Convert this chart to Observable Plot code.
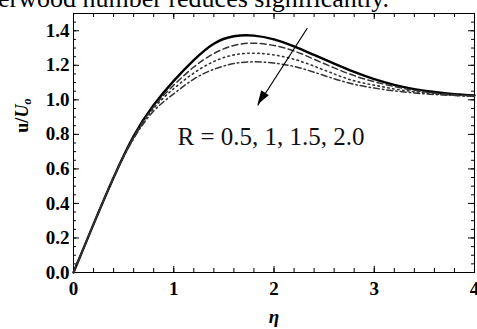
<!DOCTYPE html>
<html>
<head>
<meta charset="utf-8">
<script src="https://cdn.jsdelivr.net/npm/d3@7"></script>
<script src="https://cdn.jsdelivr.net/npm/@observablehq/plot@0.6"></script>
<style>
  body { margin: 0; background: #fff; }
  #wrap { position: relative; width: 477px; height: 329px; overflow: hidden; background: #fff; }
  #chart { position: absolute; left: 0; top: 0; }
  #note { position: absolute; left: -2px; top: -14px; font: 26px "Liberation Serif", "Times New Roman", serif; line-height: 26px; white-space: nowrap; color: #000; }
</style>
</head>
<body>
<div id="wrap">
  <div id="chart"></div>
  <div id="note">erwood number reduces significantly.</div>
</div>
<script>
// similarity variable
const eta = [0, 0.2, 0.4, 0.6, 0.8, 1.0, 1.2, 1.4, 1.6, 1.8, 2.0, 2.2, 2.4, 2.6, 2.8, 3.0, 3.2, 3.4, 3.6, 3.8, 4.0];

// velocity profiles u/Uo for each R
const uR05 = [0, 0.28, 0.55, 0.79, 0.97, 1.11, 1.23, 1.325, 1.368, 1.372, 1.35, 1.31, 1.26, 1.21, 1.162, 1.12, 1.087, 1.062, 1.045, 1.033, 1.025];
const uR10 = [0, 0.28, 0.55, 0.785, 0.96, 1.085, 1.19, 1.268, 1.315, 1.328, 1.315, 1.283, 1.235, 1.185, 1.14, 1.105, 1.077, 1.055, 1.04, 1.03, 1.022];
const uR15 = [0, 0.28, 0.55, 0.78, 0.95, 1.065, 1.155, 1.222, 1.26, 1.27, 1.26, 1.235, 1.195, 1.15, 1.11, 1.085, 1.063, 1.047, 1.035, 1.027, 1.02];
const uR20 = [0, 0.28, 0.55, 0.775, 0.935, 1.035, 1.12, 1.177, 1.21, 1.22, 1.213, 1.193, 1.16, 1.122, 1.09, 1.068, 1.052, 1.04, 1.031, 1.025, 1.02];

// axis ticks
const xTickLabels = [0, 1, 2, 3, 4];
const yTickLabels = [0.0, 0.2, 0.4, 0.6, 0.8, 1.0, 1.2, 1.4];

// annotation
const legendText = "R = 0.5, 1, 1.5, 2.0";
const legendPos = [{x: 1.97, y: 0.785}];
const arrowPos = [{x1: 2.33, y1: 1.413, x2: 1.84, y2: 0.97}];

const W = 477, H = 329;
const mL = 73, mR = 3, mT = 13, mB = 57;
const fw = W - mL - mR, fh = H - mT - mB;

const series = [
  {values: uR05, width: 2.4, dash: null, color: "#000"},
  {values: uR10, width: 1.5, dash: "6,3.5", color: "#333"},
  {values: uR15, width: 1.6, dash: "1.5,3.5", color: "#333"},
  {values: uR20, width: 1.5, dash: "6,3,1.5,3", color: "#333"}
];

const xMinor = d3.range(0, 4.0001, 0.2);
const yMinor = d3.range(0, 1.5001, 0.05);
const yMajor = d3.range(0, 1.5001, 0.2);

const lineMarks = series.map(s => Plot.line(eta.map((x, i) => ({x, y: s.values[i]})), {
  x: "x", y: "y", curve: "natural",
  stroke: s.color, strokeWidth: s.width, strokeDasharray: s.dash
}));

const serif = "Liberation Serif";

const plot = Plot.plot({
  width: W, height: H,
  marginLeft: mL, marginRight: mR, marginTop: mT, marginBottom: mB,
  style: {fontFamily: serif, fontSize: "19px", fontWeight: "bold", background: "transparent", overflow: "visible"},
  x: {domain: [0, 4]},
  y: {domain: [0, 1.5]},
  marks: [
    // inward ticks: bottom / top
    Plot.tickX(xMinor, {x: d => d, insetTop: fh - 4, stroke: "#000", strokeWidth: 1}),
    Plot.tickX(xMinor, {x: d => d, insetBottom: fh - 4, stroke: "#000", strokeWidth: 1}),
    Plot.tickX(xTickLabels, {x: d => d, insetTop: fh - 6, stroke: "#000", strokeWidth: 1}),
    Plot.tickX(xTickLabels, {x: d => d, insetBottom: fh - 6, stroke: "#000", strokeWidth: 1}),
    // inward ticks: left / right
    Plot.tickY(yMinor, {y: d => d, insetRight: fw - 3, stroke: "#000", strokeWidth: 1}),
    Plot.tickY(yMinor, {y: d => d, insetLeft: fw - 3, stroke: "#000", strokeWidth: 1}),
    Plot.tickY(yMajor, {y: d => d, insetRight: fw - 6, stroke: "#000", strokeWidth: 1}),
    Plot.tickY(yMajor, {y: d => d, insetLeft: fw - 6, stroke: "#000", strokeWidth: 1}),
    Plot.axisX({ticks: xTickLabels, tickSize: 0, tickPadding: 9, tickFormat: d => String(d), label: null,
      fontFamily: serif, fontSize: 19, fontWeight: "bold", fill: "#000"}),
    Plot.axisY({ticks: yTickLabels, tickSize: 0, tickPadding: 4, tickFormat: d3.format(".1f"), label: null,
      fontFamily: serif, fontSize: 19, fontWeight: "bold", fill: "#000"}),
    Plot.frame({stroke: "#000", strokeWidth: 1}),
    ...lineMarks,
    Plot.arrow(arrowPos, {x1: "x1", y1: "y1", x2: "x2", y2: "y2", stroke: "#000", strokeWidth: 1.2, headLength: 0}),
    Plot.text(legendPos, {x: "x", y: "y", text: () => legendText, fontFamily: serif, fontSize: 25, fontWeight: "normal", fill: "#111"}),
    Plot.text([{y: 0.81}], {y: "y", frameAnchor: "left", dx: -51, rotate: -90, text: () => "u/Uo", fontFamily: serif, fontSize: 18, fontWeight: "bold"}),
    Plot.text(["η"], {frameAnchor: "bottom", dy: 50, text: d => d, fontFamily: serif, fontSize: 19, fontStyle: "italic", fontWeight: "bold"})
  ]
});

// y-axis title with italic U and subscript o
d3.select(plot).selectAll("text").filter(function() { return this.textContent === "u/Uo"; })
  .html('u/<tspan font-style="italic">U</tspan><tspan font-style="italic" font-size="12" dy="3">o</tspan>');

// filled arrowhead at the tip of the arrow
const sx = plot.scale("x"), sy = plot.scale("y");
const a = arrowPos[0];
const px1 = sx.apply(a.x1), py1 = sy.apply(a.y1), px2 = sx.apply(a.x2), py2 = sy.apply(a.y2);
const ang = Math.atan2(py2 - py1, px2 - px1);
const hl = 14, hw = 4.5;
const bx = px2 - hl * Math.cos(ang), by = py2 - hl * Math.sin(ang);
const nx = -Math.sin(ang) * hw, ny = Math.cos(ang) * hw;
d3.select(plot).append("path")
  .attr("d", `M${px2},${py2}L${bx + nx},${by + ny}L${bx - nx},${by - ny}Z`)
  .attr("fill", "#000");

document.getElementById("chart").appendChild(plot);
</script>
</body>
</html>
